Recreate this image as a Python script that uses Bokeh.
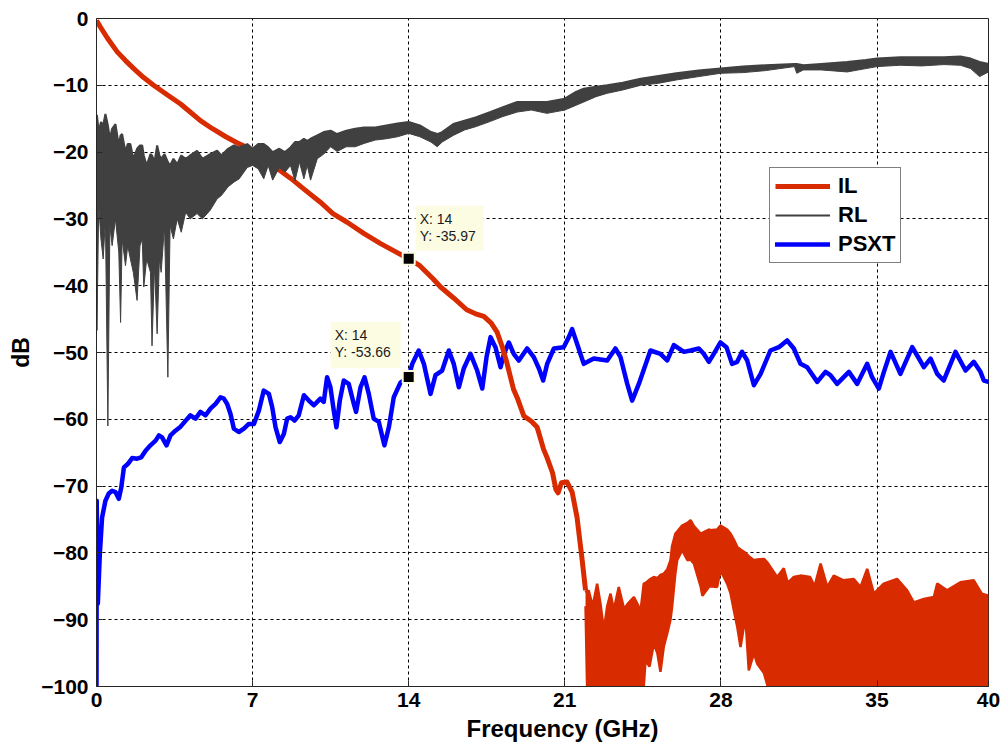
from bokeh.plotting import figure
from bokeh.models import Range1d, FixedTicker, Legend, LegendItem, Title
from bokeh.embed import file_html
from bokeh.resources import INLINE
from bokeh.core.properties import value

# ---------------- data (frequency in GHz, level in dB) ----------------
X_TICKS = [0, 7, 14, 21, 28, 35, 40]
Y_TICKS = [0, -10, -20, -30, -40, -50, -60, -70, -80, -90, -100]

# Insertion loss, smooth part of the trace
IL_F = [0.00, 0.18, 0.50, 0.93, 1.30, 1.67, 2.10, 2.56, 3.20, 3.77, 4.20, 4.66,
        5.20, 5.80, 6.30, 6.76, 7.30, 8.00, 8.70, 9.40, 10.04, 10.60, 11.24,
        12.00, 12.74, 13.40, 14.00, 14.50, 15.10, 15.43, 16.00, 16.60, 17.00,
        17.37, 17.70, 17.97, 18.20, 18.40, 18.70, 18.87, 19.16, 19.50, 19.76,
        20.05, 20.20, 20.45, 20.60, 20.70, 20.85, 21.10, 21.33, 21.55, 21.78,
        21.93]
IL_DB = [-0.3, -1.3, -3.0, -5.0, -6.3, -7.5, -8.8, -10.0, -11.5, -12.8, -14.0,
         -15.3, -16.5, -17.7, -18.6, -19.3, -20.4, -22.2, -23.9, -25.8, -27.5,
         -29.2, -30.5, -32.2, -33.7, -34.9, -35.97, -37.0, -39.0, -40.2, -41.8,
         -43.6, -44.2, -44.6, -45.6, -47.0, -49.2, -51.5, -55.5, -56.8, -59.5,
         -60.3, -61.2, -64.5, -65.7, -68.0, -70.5, -71.0, -69.5, -69.4, -70.9,
         -74.7, -81.1, -85.6]

# Insertion loss above ~22 GHz: measurement noise floor (upper / lower envelope)
IL_NOISE_F = [21.93, 22.00, 22.07, 22.25, 22.45, 22.60, 22.75, 22.90, 23.05,
              23.20, 23.42, 23.66, 23.85, 24.10, 24.40, 24.54, 24.62, 24.80,
              24.99, 25.15, 25.29, 25.44, 25.59, 25.74, 25.81, 25.96, 26.04,
              26.26, 26.50, 26.64, 26.79, 27.09, 27.17, 27.46, 27.53, 27.83,
              27.98, 28.28, 28.43, 28.58, 28.73, 28.88, 29.10, 29.25, 29.48,
              29.63, 29.93, 30.10, 30.22, 30.52, 30.82, 31.00, 31.27, 31.57,
              32.00, 32.20, 32.47, 32.77, 33.06, 33.50, 33.96, 34.26, 34.56,
              34.86, 35.30, 35.90, 36.35, 36.65, 37.10, 37.55, 37.70, 38.14,
              38.74, 39.34, 39.70, 40.00]
IL_NOISE_HI = [-85.6, -86.0, -85.6, -88.0, -84.6, -87.6, -91.6, -88.0, -86.1,
               -88.5, -85.1, -88.4, -87.5, -86.6, -88.6, -84.6, -84.5, -84.0,
               -83.6, -83.8, -83.3, -83.1, -82.5, -81.1, -79.0, -77.1, -76.8,
               -75.9, -75.5, -75.1, -76.0, -77.1, -77.0, -76.5, -76.6, -76.5,
               -75.9, -76.5, -77.1, -78.0, -79.1, -79.5, -80.0, -80.5, -81.1,
               -81.0, -80.9, -81.5, -82.1, -83.6, -82.3, -84.5, -83.6, -83.4,
               -83.6, -85.0, -81.6, -85.1, -83.4, -84.1, -83.9, -85.1, -82.4,
               -86.1, -84.6, -83.9, -85.6, -87.4, -86.9, -86.6, -84.6, -85.6,
               -84.4, -84.1, -86.1, -86.4]
IL_NOISE_LO = [-88.0, -100, -100, -100, -100, -100, -100, -100, -100,
               -100, -100, -100, -100, -100, -100, -100, -96.1, -97.0,
               -93.6, -95.0, -97.8, -94.0, -92.1, -90.0, -88.1, -83.0, -81.1,
               -79.6, -81.1, -81.0, -81.6, -85.0, -86.4, -85.1, -85.0, -85.1,
               -82.6, -84.6, -86.0, -88.6, -91.0, -94.1, -89.6, -97.6, -95.0,
               -96.6, -98.0, -100, -100, -100, -100, -100, -100, -100,
               -100, -100, -100, -100, -100, -100, -100, -100, -100,
               -100, -100, -100, -100, -100, -100, -100, -100, -100,
               -100, -100, -100, -100]

# Return loss (upper / lower envelope of the ripple)
RL_F = [0.00, 0.02, 0.10, 0.20, 0.30, 0.40, 0.51, 0.60, 0.70, 0.85,
        1.00, 1.08, 1.15, 1.30, 1.40, 1.52, 1.65, 1.82, 1.95, 2.05,
        2.12, 2.25, 2.42, 2.49, 2.60, 2.72, 2.82, 2.90, 3.05, 3.20,
        3.30, 3.45, 3.62, 3.80, 4.00, 4.20, 4.51, 4.75, 5.10, 5.41,
        5.60, 5.90, 6.16, 6.40, 6.76, 7.00, 7.25, 7.50, 7.70, 7.90,
        8.20, 8.45, 8.70, 8.90, 9.10, 9.30, 9.45, 9.60, 9.90, 10.19,
        10.50, 10.79, 11.20, 11.60, 12.00, 12.50, 13.00, 13.50, 14.00, 14.50,
        15.00, 15.28, 15.50, 16.00, 16.50, 17.00, 17.67, 18.20, 18.87, 19.50,
        20.20, 21.00, 21.50, 21.85, 22.40, 22.90, 23.60, 24.40, 25.20, 26.00,
        27.00, 27.98, 29.00, 30.00, 31.30, 31.40, 31.70, 32.50, 33.66, 34.50,
        35.00, 36.05, 37.00, 38.00, 38.74, 39.20, 39.60, 40.00]
RL_HI = [-14.5, -14.5, -17.0, -15.5, -16.0, -14.3, -16.0, -18.0, -16.5, -15.8,
         -19.0, -17.5, -17.3, -20.0, -18.8, -18.8, -21.0, -19.5, -19.0, -19.0,
         -20.5, -22.0, -20.3, -20.5, -21.5, -19.0, -20.5, -21.0, -20.3, -21.5,
         -22.0, -21.0, -21.8, -20.5, -21.0, -20.5, -19.8, -21.0, -20.3, -19.8,
         -20.5, -19.5, -19.0, -19.3, -18.8, -19.5, -18.8, -18.8, -19.3, -20.0,
         -19.5, -20.0, -19.3, -18.5, -18.5, -18.0, -18.3, -18.0, -17.5, -17.0,
         -16.8, -17.3, -16.8, -16.5, -16.3, -16.3, -16.0, -15.7, -15.5, -16.0,
         -17.0, -17.3, -17.0, -15.8, -15.3, -14.8, -14.0, -13.3, -12.5, -12.5,
         -12.5, -12.0, -11.0, -10.5, -10.2, -10.0, -9.6, -9.0, -8.6, -8.2,
         -7.8, -7.5, -7.2, -7.0, -6.8, -6.8, -7.0, -6.8, -6.5, -6.2,
         -6.0, -5.8, -5.8, -5.8, -5.7, -6.0, -6.5, -6.8]
RL_LO = [-20.0, -46.7, -28.0, -33.0, -36.0, -30.0, -61.0, -31.0, -34.0, -30.0,
         -35.0, -45.5, -33.0, -37.0, -34.0, -36.0, -38.0, -42.2, -34.0, -33.0,
         -40.2, -36.0, -38.0, -49.0, -37.0, -47.2, -36.0, -38.0, -31.0, -53.7,
         -31.0, -33.0, -30.0, -32.0, -29.0, -30.0, -29.2, -30.0, -28.7, -27.0,
         -26.5, -25.2, -24.5, -24.0, -22.3, -22.0, -22.5, -24.0, -22.0, -24.2,
         -22.3, -23.0, -22.0, -24.3, -21.5, -24.0, -22.0, -24.2, -21.0, -20.3,
         -19.2, -19.9, -19.2, -19.2, -18.7, -18.2, -18.0, -17.7, -17.2, -17.7,
         -18.5, -19.2, -18.5, -17.5, -16.7, -16.2, -15.4, -14.7, -14.0, -13.7,
         -14.2, -13.7, -13.0, -12.5, -11.7, -11.2, -10.7, -10.0, -9.7, -9.2,
         -8.7, -8.2, -8.1, -7.8, -7.2, -8.2, -7.7, -7.7, -8.0, -7.5,
         -7.2, -7.0, -7.1, -6.9, -7.0, -7.5, -8.7, -8.0]

# Power-sum crosstalk
PSXT_F = [0.00, 0.01, 0.06, 0.15, 0.25, 0.40, 0.55, 0.70, 0.85, 1.00,
          1.11, 1.23, 1.40, 1.60, 1.82, 2.00, 2.20, 2.42, 2.65, 2.80,
          2.94, 3.14, 3.32, 3.54, 3.77, 4.00, 4.21, 4.44, 4.66, 4.89,
          5.11, 5.34, 5.56, 5.71, 5.86, 6.01, 6.16, 6.38, 6.61, 6.83,
          7.06, 7.28, 7.50, 7.73, 7.88, 8.03, 8.22, 8.40, 8.55, 8.70,
          8.88, 9.07, 9.30, 9.52, 9.75, 10.04, 10.19, 10.34, 10.49, 10.64,
          10.76, 10.91, 11.09, 11.31, 11.54, 11.64, 11.84, 12.02, 12.21, 12.43,
          12.66, 12.91, 13.11, 13.33, 13.63, 14.00, 14.16, 14.45, 14.68, 14.98,
          15.20, 15.50, 15.80, 16.02, 16.25, 16.47, 16.77, 17.07, 17.30, 17.49,
          17.67, 17.89, 18.12, 18.27, 18.49, 18.71, 18.94, 19.31, 19.61, 19.84,
          20.03, 20.21, 20.51, 20.95, 21.18, 21.33, 21.55, 21.85, 22.30, 22.90,
          23.27, 23.50, 23.80, 24.02, 24.32, 24.84, 25.29, 25.59, 25.89, 26.34,
          26.64, 27.01, 27.23, 27.46, 27.68, 27.98, 28.25, 28.50, 28.73, 28.95,
          29.18, 29.48, 29.78, 30.22, 30.60, 30.97, 31.27, 31.57, 31.87, 32.32,
          32.69, 32.91, 33.21, 33.74, 34.11, 34.56, 34.78, 35.08, 35.31, 35.61,
          36.05, 36.58, 36.88, 37.10, 37.40, 37.70, 37.99, 38.52, 38.97, 39.34,
          39.64, 39.79, 40.00]
PSXT_DB = [-100.0, -72.2, -87.6, -80.1, -74.7, -72.2, -71.1, -70.7, -70.9, -71.9,
           -70.2, -67.2, -66.7, -65.8, -65.9, -65.7, -64.7, -63.9, -63.2, -62.4,
           -62.7, -63.9, -62.4, -61.7, -61.1, -60.2, -59.4, -59.9, -58.9, -59.4,
           -58.4, -57.7, -56.7, -56.9, -57.7, -59.2, -61.4, -61.9, -61.4, -60.7,
           -60.7, -58.7, -55.7, -56.2, -58.2, -61.2, -63.4, -62.2, -59.9, -59.7,
           -60.2, -59.4, -56.4, -57.2, -57.9, -56.9, -57.4, -53.7, -55.2, -58.7,
           -61.2, -57.2, -54.2, -54.7, -57.7, -58.9, -55.2, -53.7, -56.2, -59.9,
           -60.4, -63.9, -61.2, -56.7, -54.5, -53.66, -51.7, -49.7, -51.7, -56.2,
           -53.4, -52.7, -49.7, -51.7, -55.2, -52.4, -50.2, -52.7, -55.4, -50.7,
           -47.7, -49.2, -52.2, -50.2, -48.5, -50.2, -51.2, -49.4, -50.7, -52.4,
           -54.2, -51.7, -49.4, -49.2, -47.7, -46.5, -48.7, -51.7, -50.9, -51.2,
           -49.4, -50.7, -54.7, -57.2, -54.7, -49.7, -50.2, -51.2, -48.9, -49.9,
           -49.7, -49.4, -50.2, -51.4, -50.2, -48.5, -49.2, -51.7, -51.4, -49.9,
           -51.2, -54.9, -53.2, -49.7, -49.2, -48.2, -49.4, -51.7, -52.2, -54.4,
           -52.9, -53.4, -54.7, -52.9, -54.7, -51.7, -53.7, -55.4, -52.9, -49.9,
           -53.2, -49.2, -50.9, -52.2, -50.9, -53.2, -54.2, -49.9, -52.7, -51.4,
           -52.9, -54.2, -54.4]

# data tips placed at 14 GHz
TIP_F = 14
TIP_IL = -35.97
TIP_PSXT = -53.66

# ---------------- styling ----------------
IL_COLOR = "#D92B00"
RL_COLOR = "#404040"
PSXT_COLOR = "#0000FF"
FONT = "Liberation Sans"
TIP_BG = "#FCFCE3"

X0, X1, Y0, Y1 = 0, 40, -100, 0
LEFT, RIGHT, TOP, BOTTOM = 96, 12, 18, 59
W, H = 1000, 745

p = figure(width=W, height=H, x_range=Range1d(X0, X1), y_range=Range1d(Y0, Y1),
           output_backend="svg", toolbar_location=None,
           min_border_left=LEFT, min_border_right=RIGHT,
           min_border_top=TOP, min_border_bottom=BOTTOM)
p.background_fill_color = "white"
p.border_fill_color = "white"
p.outline_line_color = "#262626"
p.outline_line_width = 1

# pixels -> data units (for annotation offsets)
frame_w = W - LEFT - RIGHT
frame_h = H - TOP - BOTTOM
dx = (X1 - X0) / frame_w
dy = (Y1 - Y0) / frame_h

for ax, ticks in ((p.xaxis, X_TICKS), (p.yaxis, Y_TICKS)):
    ax.ticker = FixedTicker(ticks=ticks)
    ax.axis_line_color = "#262626"
    ax.major_tick_line_color = "#262626"
    ax.major_tick_in = 6
    ax.major_tick_out = 0
    ax.minor_tick_line_color = None
    ax.major_label_text_font = FONT
    ax.major_label_text_font_style = "bold"
    ax.major_label_text_font_size = "21px"
    ax.major_label_text_color = "black"
    ax.axis_label_text_font = FONT
    ax.axis_label_text_font_style = "bold"
    ax.axis_label_text_font_size = "23px"
    ax.axis_label_text_color = "black"

p.yaxis.axis_label = "dB"
p.xaxis.major_label_standoff = 6
p.yaxis.major_label_standoff = 8
p.yaxis.axis_label_standoff = 4

# x-axis title in its own panel under the axis
xtitle = Title(text="Frequency (GHz)", align="left", offset=370, standoff=7,
               vertical_align="bottom",
               text_font=FONT, text_font_style="bold", text_font_size="24px",
               text_color="black", text_line_height=1.0)
p.add_layout(xtitle, "below")

for g, ticks in ((p.xgrid, X_TICKS), (p.ygrid, Y_TICKS)):
    g.ticker = FixedTicker(ticks=ticks)
    g.grid_line_color = "black"
    g.grid_line_alpha = 1.0
    g.grid_line_dash = "3 3"
    g.grid_line_width = 1

# PSXT
r_psxt = p.line(PSXT_F, PSXT_DB, line_color=PSXT_COLOR, line_width=4.5,
                line_join="round", line_cap="round")

# IL: smooth part plus noise floor band
r_il = p.line(IL_F, IL_DB, line_color=IL_COLOR, line_width=5, line_join="round")
p.varea(x=IL_NOISE_F, y1=IL_NOISE_LO, y2=IL_NOISE_HI, fill_color=IL_COLOR)
p.line(IL_NOISE_F, IL_NOISE_HI, line_color=IL_COLOR, line_width=2.5)
p.line(IL_NOISE_F, IL_NOISE_LO, line_color=IL_COLOR, line_width=2.5)

# RL ripple band
p.varea(x=RL_F, y1=RL_LO, y2=RL_HI, fill_color=RL_COLOR)
r_rl = p.line(RL_F, RL_HI, line_color=RL_COLOR, line_width=2)
p.line(RL_F, RL_LO, line_color=RL_COLOR, line_width=1)

# data tips
tips = [
    # value, box offsets in px (left, right, top, bottom) relative to the marker
    (TIP_IL, (7, 75, -53, -8)),
    (TIP_PSXT, (-78, -8, -55, -9)),
]
for val, (l, r, t, b) in tips:
    p.quad(left=[TIP_F + l * dx], right=[TIP_F + r * dx],
           top=[val - t * dy], bottom=[val - b * dy],
           fill_color=TIP_BG, line_color=None)
    tx = TIP_F + (l + 4) * dx
    p.text(x=[tx, tx], y=[val - (t + 13) * dy, val - (t + 30) * dy],
           text=[f"X: {TIP_F:g}", f"Y: {val:.2f}"],
           text_font=value(FONT), text_font_size="14px", text_color="#1a1a1a",
           text_baseline="middle", text_align="left")

p.scatter([TIP_F, TIP_F], [TIP_IL, TIP_PSXT], marker="square", size=12,
          fill_color="black", line_color=TIP_BG, line_width=2)

legend = Legend(items=[LegendItem(label="IL", renderers=[r_il]),
                       LegendItem(label="RL", renderers=[r_rl]),
                       LegendItem(label="PSXT", renderers=[r_psxt])],
                location=(673, 423))
legend.label_text_font = FONT
legend.label_text_font_style = "bold"
legend.label_text_font_size = "22px"
legend.label_text_line_height = 1.0
legend.label_text_color = "black"
legend.glyph_width = 55
legend.glyph_height = 24
legend.label_height = 24
legend.label_standoff = 8
legend.spacing = 3
legend.padding = 5
legend.margin = 0
legend.border_line_color = "black"
legend.border_line_width = 1
legend.background_fill_color = "white"
legend.background_fill_alpha = 1.0
p.add_layout(legend, "center")

open("out.html", "w").write(file_html(p, INLINE))
